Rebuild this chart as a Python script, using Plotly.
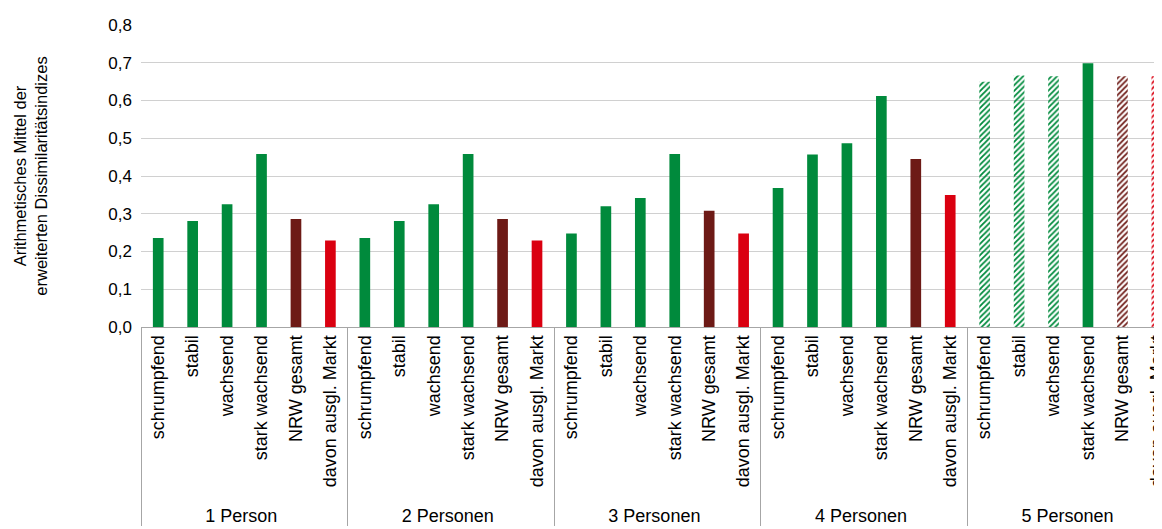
import plotly.graph_objects as go

# ---------- Data ----------
groups = ["1 Person", "2 Personen", "3 Personen", "4 Personen", "5 Personen"]
categories = ["schrumpfend", "stabil", "wachsend", "stark wachsend", "NRW gesamt", "davon ausgl. Markt"]

vals_1 = [0.236, 0.281, 0.325, 0.458, 0.286, 0.229]
vals_2 = [0.236, 0.281, 0.325, 0.458, 0.286, 0.229]
vals_3 = [0.248, 0.320, 0.342, 0.458, 0.308, 0.248]
vals_4 = [0.368, 0.457, 0.487, 0.612, 0.445, 0.350]
vals_5 = [0.650, 0.666, 0.664, 0.699, 0.664, 0.664]

# hatched bars in the last group (all except "stark wachsend")
hatched_5 = [True, True, True, False, True, True]

# ---------- Styling ----------
GREEN = "#008a3c"
BROWN = "#6d1a16"
RED = "#da0010"
cat_colors = [GREEN, GREEN, GREEN, GREEN, BROWN, RED]
FONT = "Liberation Sans, Arial, sans-serif"

all_vals = [vals_1, vals_2, vals_3, vals_4, vals_5]
x_outer, x_inner, y, colors, shapes = [], [], [], [], []
for g, vals in zip(groups, all_vals):
    for i, (c, v) in enumerate(zip(categories, vals)):
        x_outer.append(g)
        x_inner.append(c)
        y.append(v)
        colors.append(cat_colors[i])
        hatch = (g == groups[-1]) and hatched_5[i]
        shapes.append("/" if hatch else "")

fig = go.Figure()
fig.add_trace(go.Bar(
    x=[x_outer, x_inner], y=y,
    marker=dict(color=colors, line=dict(width=0),
                pattern=dict(shape=shapes, size=4, solidity=0.45, fillmode="replace")),
    showlegend=False, hoverinfo="y",
))

# page body has an 8px margin; the chart is cut at the right edge like the original
fig.update_layout(
    width=1172, height=521,
    margin=dict(l=133, r=18, t=17, b=202),
    paper_bgcolor="white", plot_bgcolor="white",
    bargap=0.69,
    separators=",.",
    font=dict(family=FONT, size=18, color="#000000"),
)

fig.update_yaxes(
    range=[0, 0.8], dtick=0.1, tickformat=".1f",
    showgrid=True, gridcolor="#d0d0d0", gridwidth=1,
    zeroline=False, showline=False,
    ticks="", ticklabelstandoff=8, tickfont=dict(size=17),
    automargin=False,
    title=dict(text="Arithmetisches Mittel der<br>erweiterten Dissimilaritätsindizes",
               font=dict(size=16.5), standoff=56),
)

fig.update_xaxes(
    type="multicategory",
    range=[-0.5, 29.15],
    tickangle=-90,
    automargin=False,
    ticklabeloverflow="allow",
    showline=True, linecolor="#a6a6a6", linewidth=1,
    showdividers=True, dividercolor="#a6a6a6", dividerwidth=1,
    ticks="", showgrid=False,
)

fig.write_html("out.html", config={"displayModeBar": False})
